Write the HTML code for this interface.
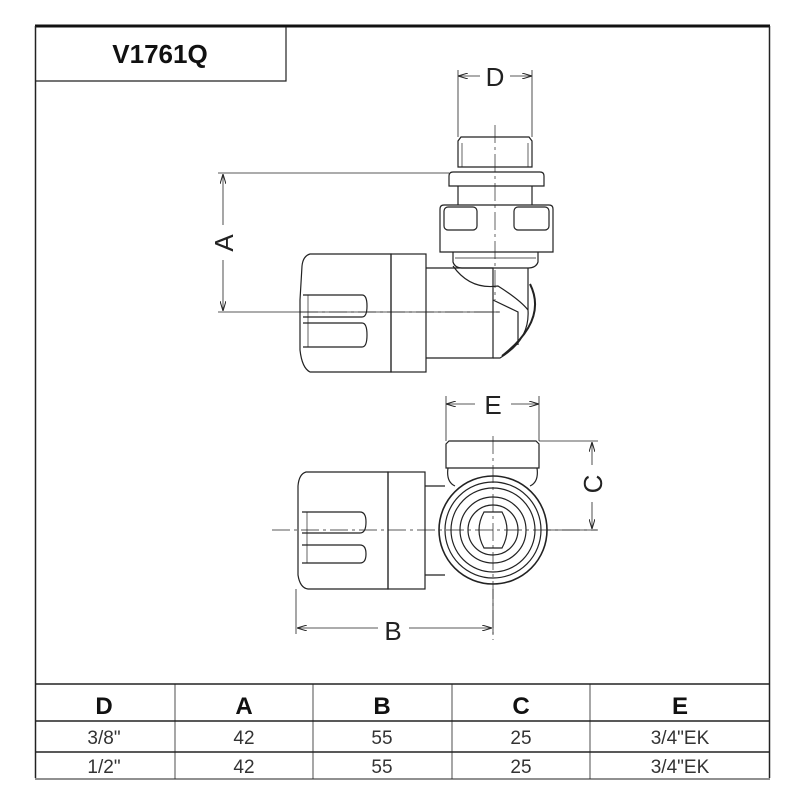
<!DOCTYPE html>
<html><head><style>
html,body{margin:0;padding:0;background:#fff;}
svg{display:block;}
text{font-family:"Liberation Sans",sans-serif;}
</style></head><body>
<svg width="800" height="800" viewBox="0 0 800 800" xmlns="http://www.w3.org/2000/svg">
<defs>
<marker id="ar" markerWidth="10" markerHeight="6" refX="10" refY="3" orient="auto-start-reverse" markerUnits="userSpaceOnUse">
<path d="M0,0 L10,3 L0,6" fill="none" stroke="#222" stroke-width="1"/></marker>
</defs>
<rect width="800" height="800" fill="#fff"/>
<!-- frame -->
<line x1="35" y1="26" x2="770" y2="26" stroke="#111" stroke-width="3"/>
<line x1="35.5" y1="26" x2="35.5" y2="778" stroke="#222" stroke-width="1.5"/>
<line x1="769.5" y1="26" x2="769.5" y2="778" stroke="#222" stroke-width="1.5"/>
<polyline points="35,81 286,81 286,27" fill="none" stroke="#222" stroke-width="1.2"/>
<text x="160" y="63" font-size="26" font-weight="bold" text-anchor="middle" fill="#111">V1761Q</text>

<g fill="none" stroke="#222" stroke-width="1.2">
<!-- TOP VIEW -->
<!-- D dim -->
<line x1="458" y1="70" x2="458" y2="137" stroke-width="0.8"/>
<line x1="532" y1="70" x2="532" y2="137" stroke-width="0.8"/>
<line x1="458" y1="76" x2="480" y2="76" stroke-width="0.8" marker-start="url(#ar)"/>
<line x1="510" y1="76" x2="532" y2="76" stroke-width="0.8" marker-end="url(#ar)"/>
<!-- centerline vertical -->
<line x1="495" y1="125" x2="495" y2="300" stroke-width="0.7" stroke-dasharray="18,4,3,4"/>
<!-- nipple -->
<path d="M461,137 L529,137 L532,141 L532,167 L458,167 L458,141 Z"/>
<line x1="462" y1="143" x2="462" y2="167" stroke-width="0.7"/>
<line x1="528" y1="143" x2="528" y2="167" stroke-width="0.7"/>
<!-- collar -->
<path d="M453,172 L540,172 Q544,172 544,176 L544,186 L449,186 L449,176 Q449,172 453,172 Z"/>
<line x1="458" y1="186" x2="458" y2="205"/>
<line x1="532" y1="186" x2="532" y2="205"/>
<!-- nut -->
<path d="M444,205 L549,205 Q553,205 553,209 L553,252 L440,252 L440,209 Q440,205 444,205 Z"/>
<rect x="444" y="207" width="33" height="23" rx="4"/>
<rect x="514" y="207" width="35" height="23" rx="4"/>
<path d="M453,252 L453,262 Q455,268 462,268 L528,268 Q536,268 538,262 L538,252"/>
<line x1="455" y1="258" x2="536" y2="258" stroke-width="0.7"/>
<!-- body elbow -->
<path d="M426,268 L493,268 L493,358 L426,358"/>
<path d="M453,266 Q470,290 498,286 Q520,300 528,310"/>
<path d="M528,268 L528,310 Q530,340 500,358 L493,358"/>
<path d="M530,284 Q548,320 502,356" stroke-width="2"/>
<path d="M493,300 L518,312 L518,345"/>
<!-- knob -->
<path d="M391,254 L310,254 Q303,256 302,266 L300,300 L300,350 Q302,368 310,372 L391,372 Z"/>
<rect x="391" y="254" width="35" height="118"/>
<path d="M303,295 L362,295 Q367,295 367,306 Q367,317 362,317 L303,317"/>
<path d="M303,323 L362,323 Q367,323 367,335 Q367,347 362,347 L303,347"/>
<line x1="308" y1="295" x2="308" y2="347" stroke-width="0.7"/>
<!-- A dim -->
<line x1="218" y1="173" x2="449" y2="173" stroke-width="0.8"/>
<line x1="218" y1="312" x2="500" y2="312" stroke-width="0.8"/>
<line x1="300" y1="312" x2="500" y2="312" stroke-width="0.8" stroke-dasharray="18,4,3,4"/>
<line x1="223" y1="225" x2="223" y2="174" stroke-width="0.8" marker-end="url(#ar)"/>
<line x1="223" y1="260" x2="223" y2="311" stroke-width="0.8" marker-end="url(#ar)"/>

<!-- BOTTOM VIEW -->
<!-- E dim -->
<line x1="446" y1="396" x2="446" y2="441" stroke-width="0.8"/>
<line x1="539" y1="396" x2="539" y2="441" stroke-width="0.8"/>
<line x1="446" y1="404" x2="475" y2="404" stroke-width="0.8" marker-start="url(#ar)"/>
<line x1="511" y1="404" x2="539" y2="404" stroke-width="0.8" marker-end="url(#ar)"/>
<!-- nipple -->
<path d="M449,441 L536,441 L539,444 L539,468 L446,468 L446,444 Z"/>
<path d="M448,468 Q446,482 455,486 M537,468 Q539,482 530,486"/>
<line x1="493" y1="436" x2="493" y2="640" stroke-width="0.7" stroke-dasharray="18,4,3,4"/>
<!-- circles -->
<circle cx="493" cy="530" r="54" stroke-width="1.6"/>
<circle cx="493" cy="530" r="48"/>
<circle cx="493" cy="530" r="42"/>
<circle cx="493" cy="530" r="33"/>
<circle cx="493" cy="530" r="25"/>
<path d="M484,512 Q474,530 484,548 L502,548 Q512,530 502,512 Z"/>
<!-- knob -->
<path d="M388,472 L306,472 Q299,474 298,486 L298,575 Q300,588 308,589 L388,589 Z"/>
<rect x="388" y="472" width="37" height="117"/>
<line x1="425" y1="486" x2="445" y2="486"/>
<line x1="425" y1="575" x2="445" y2="575"/>
<path d="M302,512 L360,512 Q366,512 366,522 Q366,533 360,533 L302,533"/>
<path d="M302,545 L360,545 Q366,545 366,554 Q366,563 360,563 L302,563"/>
<line x1="307" y1="512" x2="307" y2="563" stroke-width="0.7"/>
<line x1="272" y1="530" x2="597" y2="530" stroke-width="0.7" stroke-dasharray="18,4,3,4"/>
<!-- C dim -->
<line x1="539" y1="441" x2="598" y2="441" stroke-width="0.8"/>
<line x1="547" y1="530" x2="598" y2="530" stroke-width="0.8"/>
<line x1="592" y1="465" x2="592" y2="442" stroke-width="0.8" marker-end="url(#ar)"/>
<line x1="592" y1="502" x2="592" y2="529" stroke-width="0.8" marker-end="url(#ar)"/>
<!-- B dim -->
<line x1="296" y1="589" x2="296" y2="634" stroke-width="0.8"/>
<line x1="493" y1="589" x2="493" y2="634" stroke-width="0.8"/>
<line x1="378" y1="628" x2="297" y2="628" stroke-width="0.8" marker-end="url(#ar)"/>
<line x1="409" y1="628" x2="492" y2="628" stroke-width="0.8" marker-end="url(#ar)"/>

<!-- TABLE -->
<line x1="35" y1="684" x2="770" y2="684" stroke-width="1.5"/>
<line x1="35" y1="721" x2="770" y2="721" stroke-width="1.5"/>
<line x1="35" y1="752" x2="770" y2="752" stroke-width="1.5"/>
<line x1="35" y1="779" x2="770" y2="779" stroke-width="1"/>
<line x1="175" y1="684" x2="175" y2="779" stroke-width="0.8"/>
<line x1="313" y1="684" x2="313" y2="779" stroke-width="0.8"/>
<line x1="452" y1="684" x2="452" y2="779" stroke-width="0.8"/>
<line x1="590" y1="684" x2="590" y2="779" stroke-width="0.8"/>
</g>

<g fill="#222" font-size="26" text-anchor="middle">
<text x="495" y="86">D</text>
<text x="493" y="414">E</text>
<text x="393" y="640">B</text>
<text transform="translate(233,243) rotate(-90)">A</text>
<text transform="translate(602,484) rotate(-90)">C</text>
</g>
<g fill="#111" font-size="24" font-weight="bold" text-anchor="middle">
<text x="104" y="714">D</text>
<text x="244" y="714">A</text>
<text x="382" y="714">B</text>
<text x="521" y="714">C</text>
<text x="680" y="714">E</text>
</g>
<g fill="#333" font-size="19" text-anchor="middle" font-family="Liberation Sans,sans-serif">
<text x="104" y="744">3/8"</text>
<text x="244" y="744">42</text>
<text x="382" y="744">55</text>
<text x="521" y="744">25</text>
<text x="680" y="744">3/4"EK</text>
<text x="104" y="773">1/2"</text>
<text x="244" y="773">42</text>
<text x="382" y="773">55</text>
<text x="521" y="773">25</text>
<text x="680" y="773">3/4"EK</text>
</g>
</svg>
</body></html>
